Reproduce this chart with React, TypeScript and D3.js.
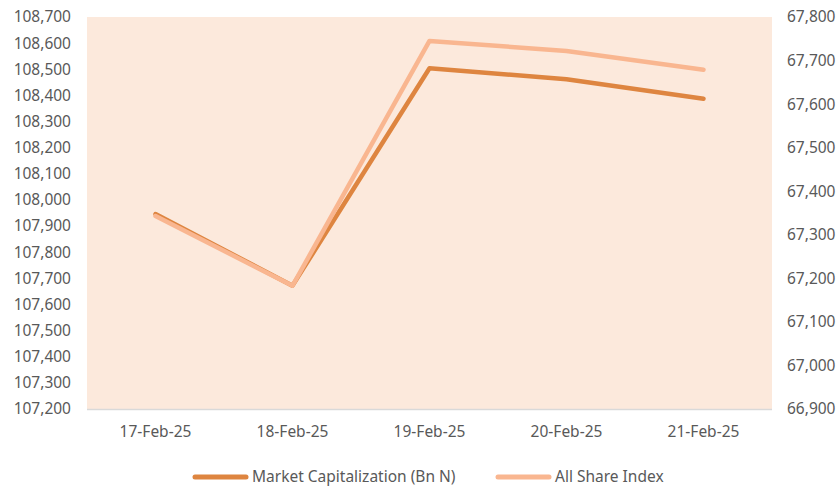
import React from "react";
import * as d3 from "d3";

const categories = ["17-Feb-25", "18-Feb-25", "19-Feb-25", "20-Feb-25", "21-Feb-25"];
const marketCap = [107946, 107672, 108504, 108462, 108387];
const allShareIndex = [67343, 67183, 67745, 67722, 67679];
const leftTicks = d3.range(107200, 108701, 100);
const rightTicks = d3.range(66900, 67801, 100);
const seriesNames = ["Market Capitalization (Bn N)", "All Share Index"];

const W = 838;
const H = 492;
const M = { left: 87, right: 66, top: 17, bottom: 83 };
const DARK = "#DE8540";
const LIGHT = "#F9B690";
const BG = "#FCE9DC";
const TEXT = "#595959";
const FONT = "'Noto Sans', sans-serif";
const FS = 15.5;

export default function App() {
  const x = d3.scaleBand<string>().domain(categories).range([M.left, W - M.right]);
  const yL = d3.scaleLinear().domain([107200, 108700]).range([H - M.bottom, M.top]);
  const yR = d3.scaleLinear().domain([66900, 67800]).range([H - M.bottom, M.top]);
  const cx = (c: string) => (x(c) as number) + x.bandwidth() / 2;

  const lineL = d3.line<number>().x((_, i) => cx(categories[i])).y((d) => yL(d));
  const lineR = d3.line<number>().x((_, i) => cx(categories[i])).y((d) => yR(d));
  const fmt = d3.format(",");

  const legendY = 477;
  const legendItems = [
    { name: seriesNames[0], color: DARK, x0: 193 },
    { name: seriesNames[1], color: LIGHT, x0: 496 },
  ];

  return (
    <svg width={W} height={H} style={{ position: "absolute", left: 0, top: 0 }}>
      <rect x={M.left} y={M.top} width={W - M.left - M.right} height={H - M.top - M.bottom} fill={BG} />
      <line x1={M.left} x2={W - M.right} y1={H - M.bottom + 0.5} y2={H - M.bottom + 0.5} stroke="#D9D9D9" strokeWidth={1.5} />
      {leftTicks.map((t) => (
        <text key={"l" + t} x={71} y={yL(t)} dy="0.35em" textAnchor="end" fontFamily={FONT} fontSize={FS} fill={TEXT}>
          {fmt(t)}
        </text>
      ))}
      {rightTicks.map((t) => (
        <text key={"r" + t} x={787} y={yR(t)} dy="0.35em" textAnchor="start" fontFamily={FONT} fontSize={FS} fill={TEXT}>
          {fmt(t)}
        </text>
      ))}
      {categories.map((c) => (
        <text key={c} x={cx(c)} y={432} dy="0.35em" textAnchor="middle" fontFamily={FONT} fontSize={FS} fill={TEXT}>
          {c}
        </text>
      ))}
      <path d={lineL(marketCap) || ""} fill="none" stroke={DARK} strokeWidth={4.5} strokeLinecap="round" strokeLinejoin="round" />
      <path d={lineR(allShareIndex) || ""} fill="none" stroke={LIGHT} strokeWidth={4.5} strokeLinecap="round" strokeLinejoin="round" />
      {legendItems.map((it) => (
        <g key={it.name}>
          <line x1={it.x0 + 2} x2={it.x0 + 53} y1={legendY} y2={legendY} stroke={it.color} strokeWidth={5} strokeLinecap="round" />
          <text x={it.x0 + 59} y={legendY} dy="0.35em" fontFamily={FONT} fontSize={FS} fill={TEXT}>
            {it.name}
          </text>
        </g>
      ))}
    </svg>
  );
}
